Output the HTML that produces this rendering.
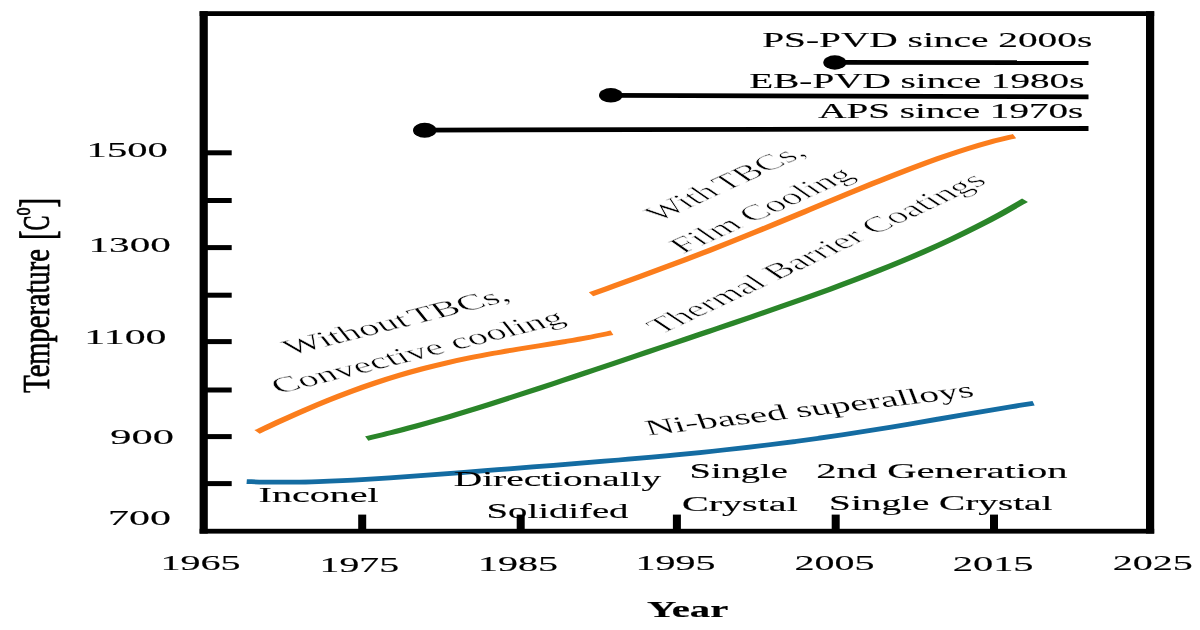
<!DOCTYPE html>
<html><head><meta charset="utf-8"><title>Temperature vs Year</title>
<style>html,body{margin:0;padding:0;background:#fff;}svg{display:block;font-family:'Liberation Serif', serif;fill:#000;}.t{filter:blur(0.3px);}</style></head><body>
<svg width="1200" height="630" viewBox="0 0 1200 630">
<rect x="0" y="0" width="1200" height="630" fill="#fff"/>
<g fill="#000">
<rect x="199.6" y="11.2" width="8.2" height="522.4"/>
<rect x="1146.0" y="11.2" width="8.2" height="522.4"/>
<rect x="199.6" y="11.2" width="954.6" height="4.8"/>
<rect x="199.6" y="528.8" width="954.6" height="4.8"/>
<rect x="206.8" y="150.3" width="24.9" height="5"/>
<rect x="206.8" y="198.0" width="24.9" height="5"/>
<rect x="206.8" y="245.1" width="24.9" height="5"/>
<rect x="206.8" y="292.7" width="24.9" height="5"/>
<rect x="206.8" y="339.1" width="24.9" height="5"/>
<rect x="206.8" y="387.5" width="24.9" height="5"/>
<rect x="206.8" y="434.1" width="24.9" height="5"/>
<rect x="206.8" y="481.1" width="24.9" height="5"/>
<rect x="358.2" y="514.6" width="8" height="16"/>
<rect x="516.7" y="514.6" width="8" height="16"/>
<rect x="672.9" y="514.6" width="8" height="16"/>
<rect x="831.7" y="514.6" width="8" height="16"/>
<rect x="990.0" y="514.6" width="8" height="16"/>
</g>
<g transform="scale(1.750 1)" fill="none" stroke-width="4.75" stroke-linecap="butt">
<path d="M146.86 431.93 C149.11 430.09 155.87 424.48 160.38 420.87 C164.89 417.27 169.40 413.72 173.90 410.31 C178.41 406.89 182.92 403.56 187.43 400.38 C191.94 397.20 196.44 394.13 200.95 391.21 C205.46 388.29 209.97 385.51 214.48 382.87 C218.98 380.23 223.49 377.74 228.00 375.39 C232.51 373.04 237.02 370.83 241.52 368.76 C246.03 366.68 250.54 364.76 255.05 362.94 C259.56 361.12 264.06 359.44 268.57 357.84 C273.08 356.24 277.59 354.77 282.10 353.34 C286.60 351.91 291.11 350.59 295.62 349.28 C300.13 347.96 304.63 346.73 309.14 345.45 C313.65 344.17 318.16 342.94 322.67 341.62 C327.17 340.29 331.68 338.97 336.19 337.50 C340.70 336.02 347.46 333.56 349.71 332.77" stroke="#fb7d1c"/>
<path d="M337.71 294.25 C339.96 292.84 346.68 288.65 351.16 285.82 C355.64 283.00 360.12 280.16 364.60 277.30 C369.08 274.43 373.57 271.54 378.05 268.62 C382.53 265.69 387.01 262.74 391.49 259.75 C395.97 256.75 400.46 253.73 404.94 250.67 C409.42 247.61 413.90 244.51 418.38 241.38 C422.86 238.25 427.34 235.09 431.83 231.90 C436.31 228.71 440.79 225.49 445.27 222.26 C449.75 219.02 454.23 215.76 458.71 212.50 C463.20 209.24 467.68 205.96 472.16 202.70 C476.64 199.44 481.12 196.16 485.60 192.93 C490.08 189.70 494.57 186.47 499.05 183.30 C503.53 180.13 508.01 176.99 512.49 173.92 C516.97 170.86 521.46 167.84 525.94 164.93 C530.42 162.03 534.90 159.18 539.38 156.48 C543.86 153.78 548.34 151.17 552.83 148.73 C557.31 146.30 561.79 143.98 566.27 141.87 C570.75 139.77 577.47 137.06 579.71 136.10" stroke="#fb7d1c"/>
<path d="M209.54 438.51 C211.86 437.54 218.83 434.71 223.48 432.68 C228.12 430.64 232.76 428.48 237.41 426.27 C242.05 424.06 246.70 421.75 251.34 419.39 C255.98 417.04 260.63 414.60 265.27 412.13 C269.92 409.67 274.56 407.13 279.20 404.58 C283.85 402.02 288.49 399.42 293.14 396.79 C297.78 394.17 302.42 391.51 307.07 388.85 C311.71 386.18 316.36 383.48 321.00 380.78 C325.65 378.08 330.29 375.37 334.93 372.65 C339.58 369.93 344.22 367.20 348.87 364.47 C353.51 361.74 358.15 359.01 362.80 356.27 C367.44 353.54 372.09 350.80 376.73 348.07 C381.37 345.33 386.02 342.59 390.66 339.85 C395.31 337.11 399.95 334.37 404.59 331.62 C409.24 328.87 413.88 326.11 418.53 323.35 C423.17 320.58 427.82 317.80 432.46 315.01 C437.10 312.21 441.75 309.40 446.39 306.56 C451.04 303.72 455.68 300.86 460.32 297.96 C464.97 295.06 469.61 292.13 474.26 289.14 C478.90 286.16 483.54 283.14 488.19 280.04 C492.83 276.94 497.48 273.80 502.12 270.57 C506.76 267.34 511.41 264.04 516.05 260.64 C520.70 257.24 525.34 253.77 529.99 250.16 C534.63 246.55 539.27 242.86 543.92 239.01 C548.56 235.16 553.21 231.20 557.85 227.07 C562.49 222.94 567.14 218.68 571.78 214.22 C576.43 209.76 583.39 202.62 585.71 200.30" stroke="#2a8529"/>
<path d="M140.97 481.59 C143.24 481.69 150.06 482.10 154.60 482.19 C159.14 482.28 163.68 482.23 168.22 482.13 C172.77 482.02 177.31 481.80 181.85 481.54 C186.39 481.28 190.93 480.94 195.48 480.56 C200.02 480.18 204.56 479.74 209.10 479.27 C213.64 478.81 218.19 478.30 222.73 477.77 C227.27 477.24 231.81 476.68 236.35 476.12 C240.90 475.55 245.44 474.96 249.98 474.37 C254.52 473.77 259.06 473.16 263.61 472.55 C268.15 471.94 272.69 471.33 277.23 470.71 C281.77 470.09 286.32 469.47 290.86 468.84 C295.40 468.22 299.94 467.59 304.48 466.97 C309.03 466.34 313.57 465.71 318.11 465.07 C322.65 464.44 327.19 463.80 331.74 463.16 C336.28 462.51 340.82 461.86 345.36 461.20 C349.90 460.53 354.45 459.87 358.99 459.18 C363.53 458.49 368.07 457.80 372.61 457.08 C377.15 456.36 381.70 455.63 386.24 454.87 C390.78 454.12 395.32 453.34 399.86 452.54 C404.41 451.73 408.95 450.90 413.49 450.04 C418.03 449.19 422.57 448.30 427.12 447.38 C431.66 446.46 436.20 445.51 440.74 444.52 C445.28 443.54 449.83 442.52 454.37 441.46 C458.91 440.41 463.45 439.32 467.99 438.19 C472.54 437.07 477.08 435.91 481.62 434.71 C486.16 433.52 490.70 432.29 495.25 431.04 C499.79 429.79 504.33 428.50 508.87 427.19 C513.41 425.89 517.96 424.55 522.50 423.20 C527.04 421.85 531.58 420.48 536.12 419.11 C540.67 417.75 545.21 416.36 549.75 414.99 C554.29 413.63 558.83 412.25 563.38 410.91 C567.92 409.57 572.46 408.24 577.00 406.96 C581.54 405.69 588.36 403.88 590.63 403.26" stroke="#146ca2"/>
</g>
<g stroke="#000" stroke-width="4.8" fill="#000">
<line x1="834" y1="62.4" x2="1088.5" y2="62.6"/>
<line x1="611" y1="95.4" x2="1088.5" y2="96.8"/>
<line x1="425" y1="130.1" x2="1088.5" y2="128.5"/>
</g>
<ellipse cx="834.8" cy="62.5" rx="11.5" ry="7.2"/>
<ellipse cx="610.8" cy="95.3" rx="11.8" ry="7.3"/>
<ellipse cx="424.7" cy="130.2" rx="11.7" ry="7.5"/>
<g class="t">
<g stroke="#000" stroke-width="0.15">
<text x="762.2" y="47.0" font-size="22.0" font-weight="normal" textLength="330.1" lengthAdjust="spacingAndGlyphs">PS-PVD since 2000s</text>
<text x="749.3" y="87.5" font-size="22.0" font-weight="normal" textLength="335.1" lengthAdjust="spacingAndGlyphs">EB-PVD since 1980s</text>
<text x="818.2" y="117.9" font-size="22.0" font-weight="normal" textLength="265.1" lengthAdjust="spacingAndGlyphs">APS since 1970s</text>
<text x="86.6" y="157.0" font-size="22.0" font-weight="normal" textLength="81.2" lengthAdjust="spacingAndGlyphs">1500</text>
<text x="88.5" y="252.0" font-size="22.0" font-weight="normal" textLength="82.3" lengthAdjust="spacingAndGlyphs">1300</text>
<text x="84.3" y="344.2" font-size="22.0" font-weight="normal" textLength="82.3" lengthAdjust="spacingAndGlyphs">1100</text>
<text x="110.3" y="443.8" font-size="22.0" font-weight="normal" textLength="63.7" lengthAdjust="spacingAndGlyphs">900</text>
<text x="107.9" y="525.4" font-size="22.0" font-weight="normal" textLength="63.0" lengthAdjust="spacingAndGlyphs">700</text>
<text x="160.4" y="570.0" font-size="22.0" font-weight="normal" textLength="80.2" lengthAdjust="spacingAndGlyphs">1965</text>
<text x="319.6" y="571.5" font-size="22.0" font-weight="normal" textLength="79.5" lengthAdjust="spacingAndGlyphs">1975</text>
<text x="477.9" y="571.3" font-size="22.0" font-weight="normal" textLength="80.0" lengthAdjust="spacingAndGlyphs">1985</text>
<text x="635.4" y="569.5" font-size="22.0" font-weight="normal" textLength="80.0" lengthAdjust="spacingAndGlyphs">1995</text>
<text x="794.5" y="569.5" font-size="22.0" font-weight="normal" textLength="80.1" lengthAdjust="spacingAndGlyphs">2005</text>
<text x="952.7" y="571.3" font-size="22.0" font-weight="normal" textLength="80.9" lengthAdjust="spacingAndGlyphs">2015</text>
<text x="1112.7" y="569.5" font-size="22.0" font-weight="normal" textLength="80.2" lengthAdjust="spacingAndGlyphs">2025</text>
<text x="646.9" y="617.0" font-size="23.0" font-weight="bold" textLength="81.4" lengthAdjust="spacingAndGlyphs">Year</text>
<text x="258.6" y="502.0" font-size="22.0" font-weight="normal" textLength="120.1" lengthAdjust="spacingAndGlyphs">Inconel</text>
<text x="453.8" y="485.5" font-size="22.0" font-weight="normal" textLength="207.4" lengthAdjust="spacingAndGlyphs">Directionally</text>
<text x="486.5" y="518.0" font-size="22.0" font-weight="normal" textLength="142.0" lengthAdjust="spacingAndGlyphs">Solidifed</text>
<text x="689.5" y="478.4" font-size="22.0" font-weight="normal" textLength="98.3" lengthAdjust="spacingAndGlyphs">Single</text>
<text x="682.0" y="511.4" font-size="22.0" font-weight="normal" textLength="115.8" lengthAdjust="spacingAndGlyphs">Crystal</text>
<text x="816.2" y="477.5" font-size="22.0" font-weight="normal" textLength="251.5" lengthAdjust="spacingAndGlyphs">2nd Generation</text>
<text x="829.1" y="510.0" font-size="22.0" font-weight="normal" textLength="223.3" lengthAdjust="spacingAndGlyphs">Single Crystal</text>
</g>
<text transform="translate(290.3 355.4) scale(1.800 1) rotate(-24.22)" font-size="22.0" textLength="135.1" lengthAdjust="spacingAndGlyphs" stroke="#fff" stroke-width="0.50" vector-effect="non-scaling-stroke" word-spacing="-3.0">Without TBCs,</text>
<text transform="translate(278.6 394.0) scale(1.800 1) rotate(-24.05)" font-size="22.0" textLength="175.5" lengthAdjust="spacingAndGlyphs" stroke="#fff" stroke-width="0.50" vector-effect="non-scaling-stroke" word-spacing="0.0">Convective cooling</text>
<text transform="translate(658.5 222.0) scale(1.800 1) rotate(-39.10)" font-size="22.0" textLength="107.0" lengthAdjust="spacingAndGlyphs" stroke="#fff" stroke-width="0.70" vector-effect="non-scaling-stroke" word-spacing="-2.0">With TBCs,</text>
<text transform="translate(683.0 254.0) scale(1.800 1) rotate(-38.70)" font-size="22.0" textLength="123.2" lengthAdjust="spacingAndGlyphs" stroke="#fff" stroke-width="0.70" vector-effect="non-scaling-stroke" word-spacing="0.0">Film Cooling</text>
<text transform="translate(660.7 334.7) scale(1.800 1) rotate(-39.91)" font-size="22.0" textLength="237.2" lengthAdjust="spacingAndGlyphs" stroke="#fff" stroke-width="0.70" vector-effect="non-scaling-stroke" word-spacing="0.0">Thermal Barrier Coatings</text>
<text transform="translate(648.5 435.5) scale(1.800 1) rotate(-12.12)" font-size="22.0" textLength="185.8" lengthAdjust="spacingAndGlyphs" stroke="#fff" stroke-width="0.15" vector-effect="non-scaling-stroke" word-spacing="0.0">Ni-based superalloys</text>
<g stroke="#000" stroke-width="0.5">
<text transform="translate(49.3 392.7) scale(1.500 1) rotate(-90)" font-size="25" textLength="143.5" lengthAdjust="spacingAndGlyphs">Temperature</text>
<text transform="translate(49.3 240.0) scale(1.500 1) rotate(-90)" font-size="25" textLength="42" lengthAdjust="spacingAndGlyphs"><tspan font-size="32" dy="2.2">[</tspan><tspan dy="-2.2">C</tspan><tspan font-size="18" dy="-13">o</tspan><tspan font-size="32" dy="15.2">]</tspan></text>
</g>
</g>
</svg>
</body></html>
